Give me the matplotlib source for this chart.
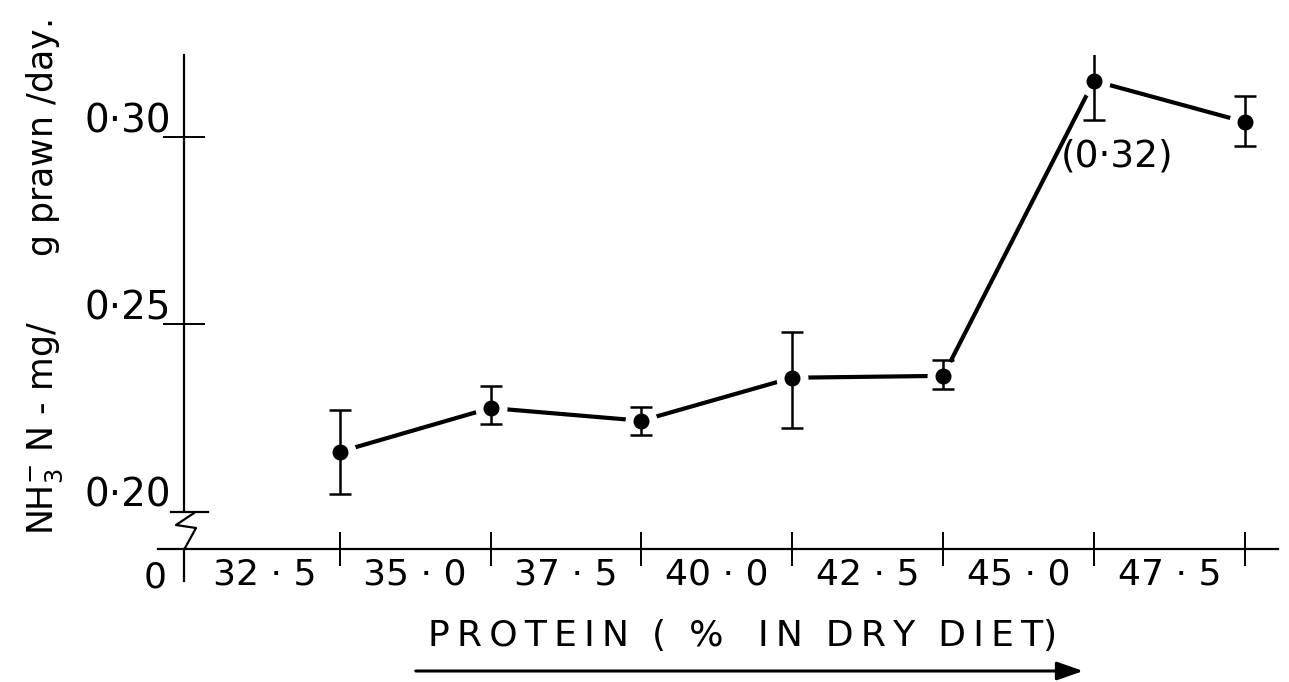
import matplotlib
matplotlib.use("Agg")
import matplotlib.pyplot as plt
import matplotlib.transforms as mtransforms
from matplotlib.lines import Line2D

# ---- data ----
x_pos = [1, 2, 3, 4, 5, 6, 7]
x_tick_labels = ["32 · 5", "35 · 0", "37 · 5", "40 · 0", "42 · 5", "45 · 0", "47 · 5"]
nh3 = [0.2158, 0.2275, 0.2241, 0.2356, 0.2361, 0.3150, 0.3040]
err_upper = [0.2270, 0.2334, 0.2278, 0.2479, 0.2404, 0.3249, 0.3110]
err_lower = [0.2045, 0.2233, 0.2203, 0.2222, 0.2326, 0.3045, 0.2976]
y_ticks = [0.25, 0.30]
y_tick_labels = ["0·25", "0·30"]
y_break_label_value = 0.20
y_break_label = "0·20"
annot_text = "(0·32)"

plt.rcParams['font.family'] = ['DejaVu Sans']

W, H = 1289, 682
fig = plt.figure(figsize=(W / 100, H / 100), dpi=100)


def px(x, y):
    return (x / W, 1 - y / H)


def spaced(s):
    return "\u2009".join(s)


left, right, top, bottom = 184, 1278, 55, 549
ax = fig.add_axes([left / W, 1 - bottom / H, (right - left) / W, (bottom - top) / H])
ax.set_xlim(-0.033, 7.22)
ax.set_ylim(0.1898, 0.3219)
for s in ax.spines.values():
    s.set_visible(False)
ax.patch.set_alpha(0)

lw_axis = 1.6
# x axis line (extends a little left of the y axis)
fig.add_artist(Line2D([px(158, 0)[0], px(1278, 0)[0]], [px(0, 549)[1]] * 2,
                      color='black', lw=lw_axis, transform=fig.transFigure))
# y axis line above the break
ax.plot([ax.get_xlim()[0]] * 2, [y_break_label_value, ax.get_ylim()[1]], color='black',
        lw=lw_axis, clip_on=False)
# y axis stub below x axis
fig.add_artist(Line2D([px(184, 0)[0]] * 2, [px(0, 549)[1], px(0, 581)[1]],
                      color='black', lw=lw_axis, transform=fig.transFigure))
# break symbol
bx = [px(171, 0)[0], px(208, 0)[0]]
fig.add_artist(Line2D(bx, [px(0, 512)[1]] * 2, color='black', lw=lw_axis, transform=fig.transFigure))
zz = [(194, 513), (176, 525), (196, 528), (185, 548)]
fig.add_artist(Line2D([px(*p)[0] for p in zz], [px(*p)[1] for p in zz], color='black',
                      lw=lw_axis, transform=fig.transFigure))

# ticks
ax.set_xticks(x_pos)
ax.set_xticklabels([])
ax.set_xticks([p - 0.5 for p in x_pos], minor=True)
ax.set_xticklabels(x_tick_labels, minor=True, fontsize=26)
ax.tick_params(axis='x', which='major', direction='inout', length=25, width=1.4)
ax.tick_params(axis='x', which='minor', length=0, pad=6)

ax.set_yticks(y_ticks)
ax.set_yticklabels([])
ax.tick_params(axis='y', which='major', direction='inout', length=30, width=1.4)
off = mtransforms.ScaledTranslation(0, 4 / 100, fig.dpi_scale_trans)
for v, lab in zip(y_ticks + [y_break_label_value], y_tick_labels + [y_break_label]):
    ax.text(-0.012, v, lab, transform=ax.get_yaxis_transform() + off, ha='right',
            va='baseline', fontsize=28)
ax.text(*px(155, 578), "0", transform=fig.transFigure, ha='center', va='center', fontsize=26)

# data line with gaps near markers
ax.plot(x_pos, nh3, color='black', lw=3.0, zorder=2, solid_capstyle='butt')
ax.plot(x_pos, nh3, 'o', color='white', ms=22, zorder=3)
yerr = [[v - lo for v, lo in zip(nh3, err_lower)], [hi - v for v, hi in zip(nh3, err_upper)]]
ax.errorbar(x_pos, nh3, yerr=yerr, fmt='none', ecolor='black', elinewidth=1.8,
            capsize=8, capthick=1.8, zorder=4)
ax.plot(x_pos, nh3, 'o', color='black', ms=10.5, zorder=5)

ax.text(*px(1117, 157), annot_text, transform=fig.transFigure, ha='center', va='center',
        fontsize=27)

# axis labels
xlab = spaced("PROTEIN") + "  (  %   " + spaced("IN") + "  " + spaced("DRY") + "  " + spaced("DIET") + ")"
fig.text(*px(743, 636), xlab, ha='center', va='center', fontsize=26)
fig.add_artist(matplotlib.patches.FancyArrowPatch(px(413, 671), px(1086, 671),
                                                  transform=fig.transFigure,
                                                  arrowstyle='-|>,head_length=0.8,head_width=0.28',
                                                  mutation_scale=20, lw=2.2, color='black'))
fig.text(*px(45, 277), r"NH$_3^{-}$ N - mg/      g prawn /day.", rotation=90, ha='center',
         va='center', fontsize=25)

fig.savefig("out.png", dpi=100)
